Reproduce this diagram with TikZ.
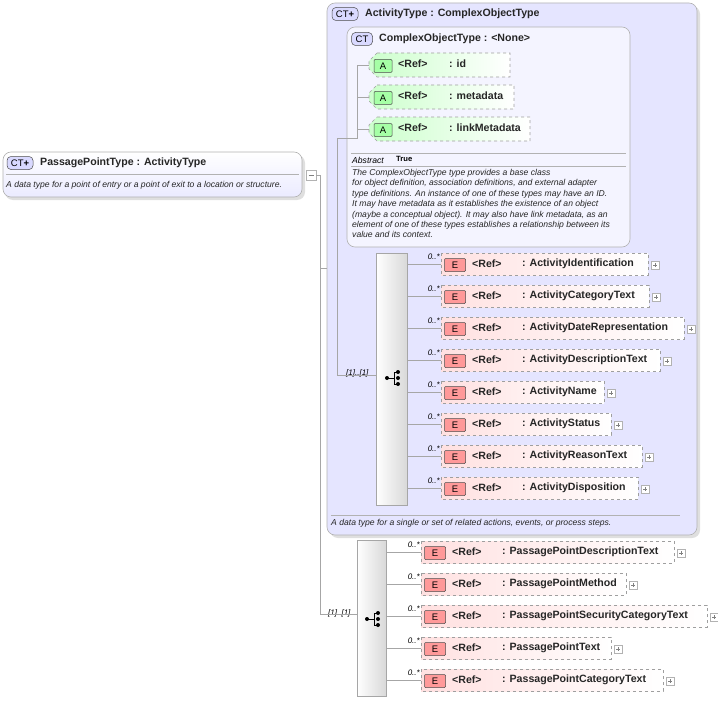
\documentclass[tikz,border=0pt]{standalone}
\usepackage{fontspec}
\setmainfont{Liberation Sans}
\usetikzlibrary{calc}
\begin{document}
\begin{tikzpicture}[x=1pt,y=-1pt,
  every node/.style={inner sep=0pt},
  ttl/.style={font=\fontsize{10.6}{11}\selectfont\bfseries,anchor=west,text=black!85},
  dsc/.style={font=\fontsize{8.6}{10.4}\selectfont\itshape,anchor=west,align=left,text=black!85},
  mult/.style={font=\fontsize{8}{8}\selectfont\itshape,anchor=south east},
  conn/.style={draw=gray!70,line width=0.6pt},
  ctbox/.style={draw=gray!60,rounded corners=8pt,line width=0.6pt},
  elem/.style={draw=gray!75,dashed,line width=0.6pt,left color=red!12,right color=white},
  attr/.style={draw=gray!75,dashed,line width=0.6pt,left color=green!20,right color=white},
  badge/.style={draw=black!70,rounded corners=1pt,line width=0.5pt,font=\fontsize{9.5}{10}\selectfont},
  plus/.style={draw=gray!60,fill=white,line width=0.5pt},
  seq/.style={draw=gray!70,left color=white,right color=gray!30,line width=0.6pt}]
\useasboundingbox (0,0) rectangle (718,701);
% shadows
\fill[gray!25,rounded corners=8pt] (5,155) rectangle (305,200);
\fill[gray!25,rounded corners=8pt] (330,6) rectangle (700,538);
% outer type
\draw[ctbox,top color=white,bottom color=blue!8] (3,152) rectangle (302,197);
\node[badge,fill=blue!15,minimum width=26pt,minimum height=13pt,rounded corners=4pt] (ct1) at (20,163) {CT\textbf{+}};
\node[ttl] (t1) at (40,163) {PassagePointType : ActivityType};
\draw[gray!60] (6,174) -- (299,174);
\node[dsc] (d1) at (6,185) {A data type for a point of entry or a point of exit to a location or structure.};
\draw[plus] (306,170) rectangle (316,180);
\draw[gray] (308.5,175) -- (313.5,175);
\coordinate (m1) at (316,175);
% ActivityType box
\draw[ctbox,fill=blue!10] (327,3) rectangle (697,535);
\node[badge,fill=blue!15,minimum width=26pt,minimum height=13pt,rounded corners=4pt] (ct2) at (345,14) {CT\textbf{+}};
\node[ttl] (t2) at (365,14) {ActivityType : ComplexObjectType};
\draw[gray!60] (331,515) -- (680,515);
\node[dsc] (d2) at (331,523) {A data type for a single or set of related actions, events, or process steps.};
% ComplexObjectType box
\draw[ctbox,fill=white,fill opacity=0.6] (347,27) rectangle (630,247);
\node[badge,fill=blue!15,minimum width=21pt,minimum height=13pt,rounded corners=4pt] (ct3) at (362,39) {CT};
\node[ttl] (t3) at (379,39) {ComplexObjectType : <None>};
% attributes
\foreach \n/\y/\r/\lab in {id/65/510/id, md/97/514/metadata, lm/129/530/linkMetadata}{
  \draw[attr] (377,\y-12) -- (\r,\y-12) -- (\r,\y+12) -- (377,\y+12) -- (369,\y+4) -- (369,\y-4) -- cycle;
  \node[badge,fill=green!35,minimum width=18pt,minimum height=13pt] (b\n) at (383,\y+1) {A};
  \node[ttl] (r\n) at (398,\y-1) {<Ref>};
  \node[ttl] (l\n) at (449,\y-1) {: \lab};
  \coordinate (a\n) at (369,\y);
}
\coordinate (av) at (357,65);
\coordinate (ab) at (357,138);
\draw[conn] (aid) -- (av) -- (ab) -- (337,138) -- (337,375);
\draw[conn] (amd) -- (357,97);
\draw[conn] (alm) -- (357,129);
\draw[gray!60] (351,153) -- (626,153);
\node[font=\fontsize{8.6}{9}\selectfont\itshape,anchor=west] (ab1) at (352,160) {Abstract};
\node[font=\fontsize{7.6}{8}\selectfont\bfseries,anchor=west] (ab2) at (396,159) {True};
\draw[gray!60] (351,166) -- (626,166);
\node[dsc,anchor=north west] (d3) at (352,169) {The ComplexObjectType type provides a base class\\for object definition, association definitions, and external adapter\\type definitions. An instance of one of these types may have an ID.\\It may have metadata as it establishes the existence of an object\\(maybe a conceptual object). It may also have link metadata, as an\\element of one of these types establishes a relationship between its\\value and its context.};
% sequence 1
\draw[seq] (376,253) rectangle (407,505);
\node[mult,anchor=south west] (s1m) at (346,377) {[1]..[1]};
\draw[conn] (337,375) -- (376,375);
\coordinate (s1) at (392,378);
\foreach \dy in {-6,0,6}{\fill ($(s1)+(6,\dy)$) circle (2pt);}
\fill ($(s1)+(-5,0)$) circle (2pt);
\draw[line width=0.7pt] (387,378) -- (394,378) (394,372) -- (394,384) (394,372) -- (398,372) (394,384)--(398,384);
% sequence 2
\draw[seq] (357,540) rectangle (386,696);
\node[mult,anchor=south west] (s2m) at (328,617) {[1]..[1]};
\draw[conn] (m1) -- (320,175) -- (320,614) -- (357,614);
\draw[conn] (320,268) -- (327,268);
\coordinate (s2) at (372,619);
\foreach \dy in {-6,0,6}{\fill ($(s2)+(6,\dy)$) circle (2pt);}
\fill ($(s2)+(-5,0)$) circle (2pt);
\draw[line width=0.7pt] (367,619) -- (374,619) (374,613) -- (374,625) (374,613) -- (378,613) (374,625)--(378,625);
% elements group 1
\foreach \i/\y/\r/\lab in {1/264/648/ActivityIdentification, 2/296/649/ActivityCategoryText, 3/328/684/ActivityDateRepresentation, 4/360/660/ActivityDescriptionText, 5/392/604/ActivityName, 6/424/611/ActivityStatus, 7/456/642/ActivityReasonText, 8/488/638/ActivityDisposition}{
  \draw[elem] (441,\y-11) rectangle (\r,\y+11);
  \node[badge,fill=red!40,minimum width=21pt,minimum height=13pt] (e\i) at (455,\y+1) {E};
  \node[ttl] (er\i) at (472,\y) {<Ref>};
  \node[ttl] (el\i) at (522,\y) {: \lab};
  \draw[plus] (\r+3,\y-3) rectangle (\r+11,\y+5);
  \draw[gray] (\r+5,\y+1) -- (\r+9,\y+1) (\r+7,\y-1) -- (\r+7,\y+3);
  \coordinate (ec\i) at (441,\y);
  \draw[conn] (407,\y) -- (ec\i);
  \node[mult] at (440,\y-4) {0..*};
}
% elements group 2
\foreach \i/\y/\r/\lab in {1/552/674/PassagePointDescriptionText, 2/584/626/PassagePointMethod, 3/616/707/PassagePointSecurityCategoryText, 4/648/611/PassagePointText, 5/680/663/PassagePointCategoryText}{
  \draw[elem] (421,\y-11) rectangle (\r,\y+11);
  \node[badge,fill=red!40,minimum width=21pt,minimum height=13pt] (f\i) at (435,\y+1) {E};
  \node[ttl] (fr\i) at (452,\y) {<Ref>};
  \node[ttl] (fl\i) at (502,\y) {: \lab};
  \draw[plus] (\r+3,\y-3) rectangle (\r+11,\y+5);
  \draw[gray] (\r+5,\y+1) -- (\r+9,\y+1) (\r+7,\y-1) -- (\r+7,\y+3);
  \coordinate (fc\i) at (421,\y);
  \draw[conn] (386,\y) -- (fc\i);
  \node[mult] at (420,\y-4) {0..*};
}
\end{tikzpicture}
\end{document}
